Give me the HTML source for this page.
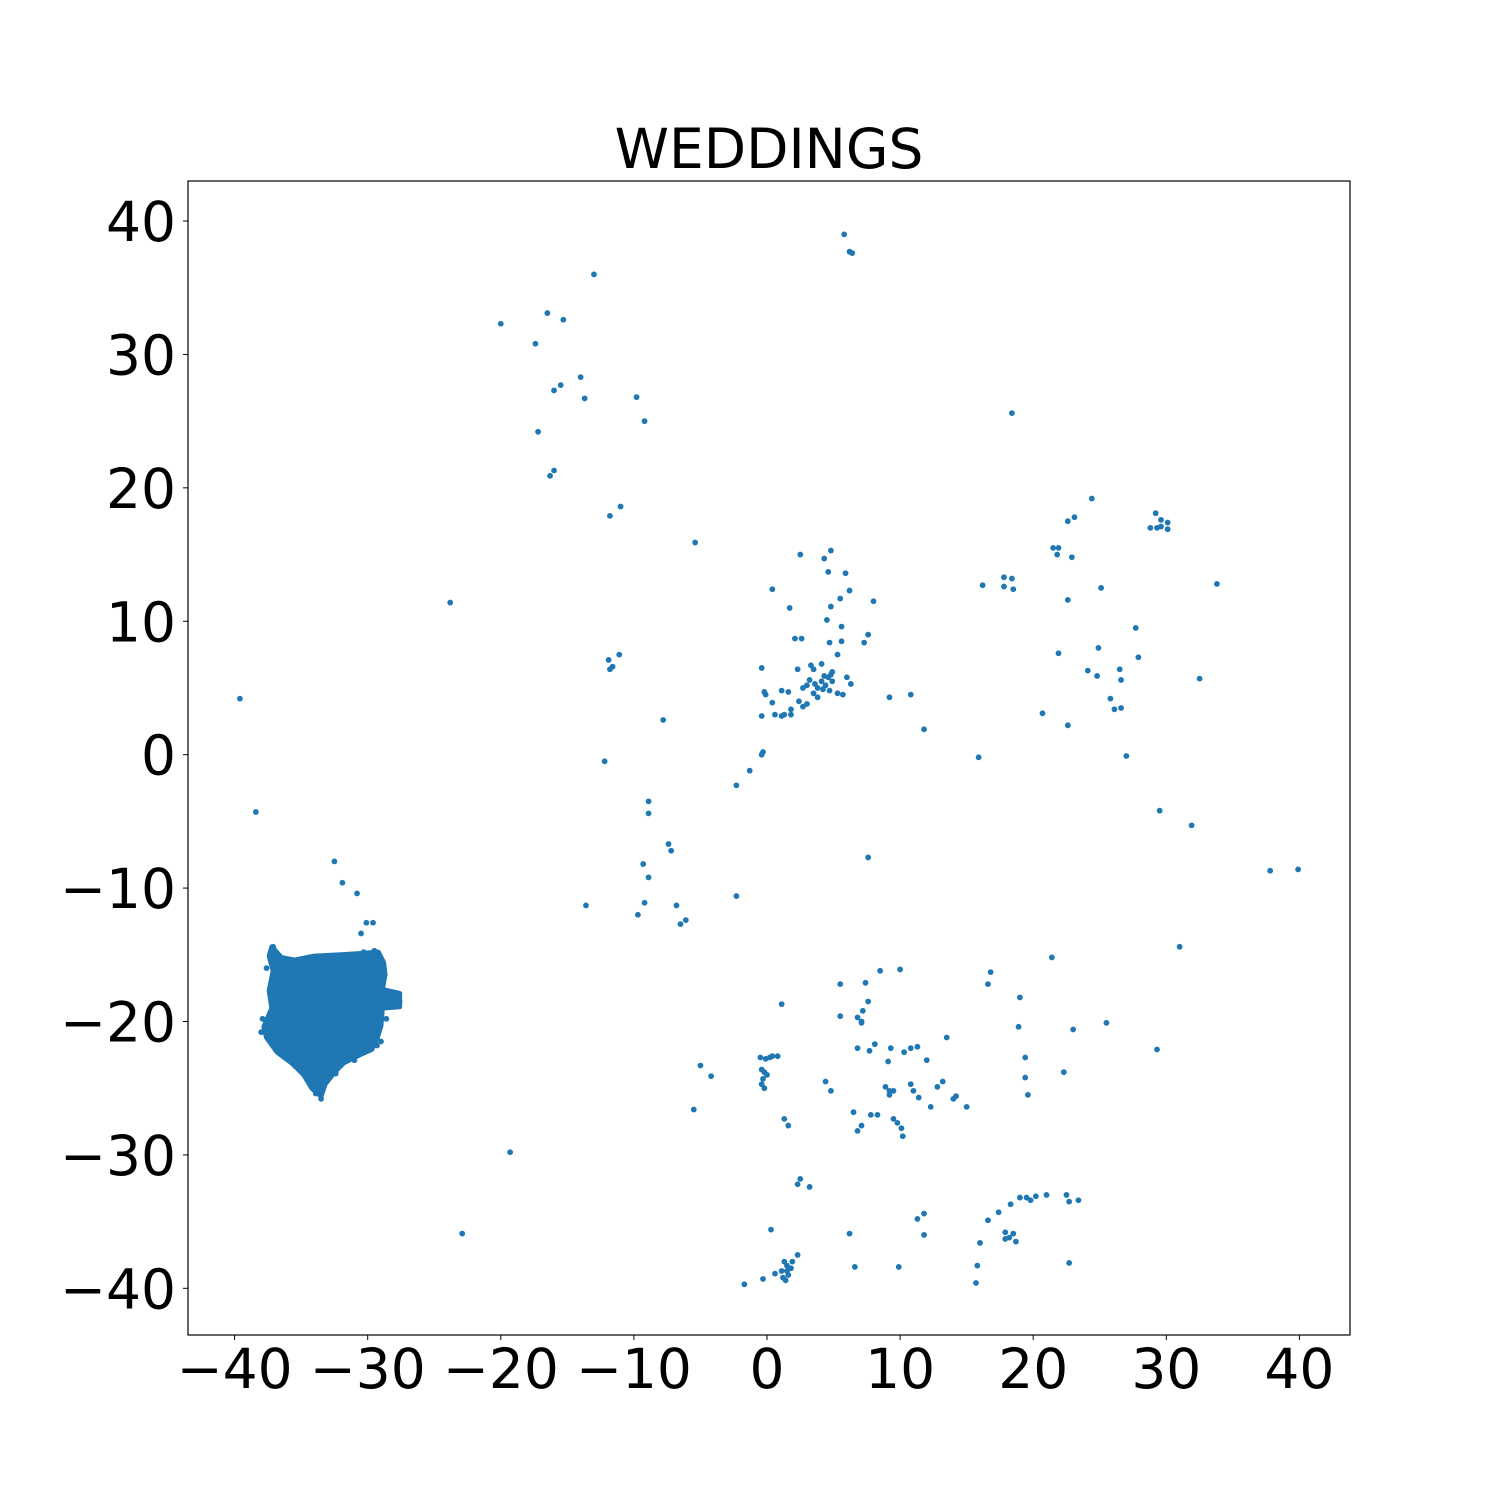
<!DOCTYPE html>
<html><head><meta charset="utf-8"><style>
html,body{margin:0;padding:0;background:#fff;}
svg{display:block;font-family:"DejaVu Sans","Liberation Sans",sans-serif;}
</style></head><body>
<svg id="chart" width="1500" height="1500" viewBox="0 0 1500 1500" xmlns="http://www.w3.org/2000/svg">
<rect width="1500" height="1500" fill="#fff"/>
<text x="769" y="168" font-size="55" text-anchor="middle">WEDDINGS</text>
<g id="marks"></g>
<g id="axes"></g>
<rect x="188" y="181" width="1162" height="1154" fill="none" stroke="#000" stroke-width="1.2"/>
</svg>
<script>
const xTicks=[-40,-30,-20,-10,0,10,20,30,40];
const yTicks=[-40,-30,-20,-10,0,10,20,30,40];
const clusterX=[-37.2,-36.5,-35.5,-34,-32,-30.5,-29.2,-28.8,-28.7,-28.9,-27.6,-27.6,-28.9,-29,-29.3,-29.7,-30.6,-31.8,-32.5,-33.2,-33.5,-34.2,-34.8,-35.6,-36.8,-37.6,-37.8,-37.2,-37.4,-37.1,-37.4];
const clusterY=[-14.4,-15.2,-15.4,-15.1,-15,-14.9,-14.8,-15.6,-16.5,-17.6,-17.9,-18.9,-19,-20.3,-21.3,-22.1,-22.5,-23.1,-23.8,-24.7,-25.6,-25,-24,-23.2,-22.3,-21.2,-20.4,-19,-17.7,-16.2,-15.1];
const pts=[[5.8,39],[6.2,37.7],[6.4,37.6],[-13,36],[-20,32.3],[-16.5,33.1],[-15.3,32.6],[-17.4,30.8],[-14,28.3],[-15.5,27.7],[-16,27.3],[-13.7,26.7],[-9.8,26.8],[-9.2,25],[-17.2,24.2],[-16,21.3],[-16.3,20.9],[-11,18.6],[-11.8,17.9],[-5.4,15.9],[18.4,25.6],[24.4,19.2],[29.2,18.1],[29.6,17.6],[30.1,17.4],[28.8,17],[29.3,17],[30.1,16.9],[29.6,17.1],[22.6,17.5],[23.1,17.8],[21.5,15.5],[21.9,15.5],[21.8,15],[22.9,14.8],[33.8,12.8],[16.2,12.7],[17.8,13.3],[18.4,13.2],[17.8,12.6],[18.5,12.4],[25.1,12.5],[22.6,11.6],[27.7,9.5],[24.9,8],[21.9,7.6],[27.9,7.3],[24.1,6.3],[24.8,5.9],[26.5,6.4],[26.6,5.6],[32.5,5.7],[25.8,4.2],[26.1,3.4],[26.6,3.5],[20.7,3.1],[22.6,2.2],[27,-0.1],[15.9,-0.2],[29.5,-4.2],[31.9,-5.3],[37.8,-8.7],[39.9,-8.6],[31,-14.4],[7.6,-7.7],
[2.5,15],[4.3,14.7],[4.8,15.3],[5.9,13.6],[4.6,13.7],[0.4,12.4],[6.2,12.3],[1.7,11],[5.5,11.7],[8,11.5],[4.8,11.1],[4.5,10.1],[7.6,9],[5.6,9.6],[2.1,8.7],[2.6,8.7],[5.6,8.5],[4.7,8.4],[7.3,8.4],[5.3,7.5],[-0.4,6.5],[3.3,6.7],[4.1,6.8],[3.5,6.4],[2.3,6.4],[6,5.8],[6.3,5.3],[-0.2,4.7],[-0.1,4.5],[1.1,4.8],[1.6,4.7],[2.7,5],[3,5.2],[3.2,5.6],[3.8,5],[4.1,5.5],[4.4,5.2],[4.6,5.8],[4.8,6],[4.9,5.5],[4.7,4.8],[5.3,4.6],[5.7,4.5],[3.5,4.6],[3.8,4.3],[2.4,4],[2.7,3.6],[3,3.8],[1.8,3.4],[1.3,3],[1.8,3],[1.1,2.9],[0.6,3],[-0.4,2.9],[0.4,3.9],[4.3,5.9],[4.9,6.2],[3.6,5.3],[4.2,4.9],[9.2,4.3],[10.8,4.5],[11.8,1.9],[-0.3,0.2],[-0.4,0],[-1.3,-1.2],[-2.3,-2.3],[-7.8,2.6],[-11.9,7.1],[-11.6,6.6],[-11.8,6.4],[-11.1,7.5],[-23.8,11.4],[-39.6,4.2],[-38.4,-4.3],[-12.2,-0.5],[-8.9,-3.5],[-8.9,-4.4],[-7.4,-6.7],[-7.2,-7.2],[-9.3,-8.2],[-8.9,-9.2],[-2.3,-10.6],[-13.6,-11.3],[-9.2,-11.1],[-9.7,-12],[-6.8,-11.3],[-6.5,-12.7],[-6.1,-12.4],[-32.5,-8],[-31.9,-9.6],[-30.8,-10.4],[-30.1,-12.6],[-29.6,-12.6],[-30.5,-13.4],
[8.5,-16.2],[10,-16.1],[5.5,-17.2],[7.4,-17.1],[16.8,-16.3],[16.6,-17.2],[21.4,-15.2],[1.1,-18.7],[7.6,-18.5],[7.2,-19.2],[6.8,-19.7],[5.5,-19.6],[7.1,-20],[7.1,-20.1],[19,-18.2],[18.9,-20.4],[23,-20.6],[25.5,-20.1],[29.3,-22.1],[13.5,-21.2],[8.1,-21.7],[6.8,-22],[7.7,-22.2],[9.3,-22],[10.3,-22.3],[10.8,-22],[11.3,-21.9],[9.1,-23],[12,-22.9],[19.4,-22.7],[22.3,-23.8],[19.4,-24.2],[19.6,-25.5],[-0.5,-22.7],[-0.1,-22.8],[0.2,-22.7],[0.4,-22.6],[0.8,-22.6],[-0.4,-23.6],[-0.2,-23.8],[0,-24],[-0.3,-24.3],[-0.4,-24.7],[-0.2,-25],[-5,-23.3],[-4.2,-24.1],[4.4,-24.5],[4.8,-25.2],[8.9,-24.9],[9.2,-25.2],[9.5,-25.2],[9.2,-25.5],[10.8,-24.7],[11,-25.2],[11.4,-25.7],[12.8,-24.9],[13.2,-24.5],[14.2,-25.6],[14,-25.8],[15,-26.4],[12.3,-26.4],[-5.5,-26.6],[6.5,-26.8],[7.8,-27],[8.3,-27],[9.5,-27.3],[9.8,-27.6],[10.1,-28],[10.2,-28.6],[7.1,-27.8],[6.8,-28.2],[1.3,-27.3],[1.6,-27.8],[-19.3,-29.8],[2.5,-31.8],[2.3,-32.2],[3.2,-32.4],[22.5,-33],[23.4,-33.4],[21,-33],[20.2,-33.1],[19.8,-33.4],[22.7,-33.5],[19.5,-33.2],[19,-33.2],[18.3,-33.7],[17.4,-34.3],[16.6,-34.9],[11.8,-34.4],[11.3,-34.8],[0.3,-35.6],[6.2,-35.9],[11.8,-36],[17.9,-35.8],[18.2,-36.2],[18.5,-35.9],[18.7,-36.5],[17.9,-36.3],[16,-36.6],[-22.9,-35.9],[2.3,-37.5],[1.3,-38],[1.5,-38.3],[1.5,-38.7],[1.2,-39.2],[1.4,-39.4],[1.8,-38.5],[1.6,-39],[0.6,-38.9],[-0.3,-39.3],[-1.7,-39.7],[6.6,-38.4],[9.9,-38.4],[15.8,-38.3],[15.7,-39.6],[22.7,-38.1],[1.9,-38],[1.1,-38.7],
[-28,-18.3],[-27.6,-18.5],[-33.5,-25.8],[-37.6,-20.6],[-37.1,-14.4],[-29.5,-14.7],[-29,-21.5],[-29.8,-22],[-38,-20.8],[-37.9,-19.8],[-37.6,-16],[-36.8,-15.3],[-33.8,-24.8],[-33.9,-25.4],[-31,-22.9],[-29.3,-21.8],[-28.6,-19.8],[-28.8,-16.3],[-30.3,-14.8],[-35.5,-23.3],[-36.6,-22.4],[-32.4,-23.9]];
const X0=188,X1=1350,Y0=181,Y1=1335,XMIN=-43.5,XMAX=43.8,YMIN=-43.5,YMAX=43.0;
function sx(v){return X0+(v-XMIN)/(XMAX-XMIN)*(X1-X0);}
function sy(v){return Y1-(v-YMIN)/(YMAX-YMIN)*(Y1-Y0);}
const NS="http://www.w3.org/2000/svg";
const marks=document.getElementById('marks'),axes=document.getElementById('axes');
const color="#1f77b4";
const poly=document.createElementNS(NS,'polygon');
poly.setAttribute('points',clusterX.map((x,i)=>sx(x)+','+sy(clusterY[i])).join(' '));
poly.setAttribute('fill',color);poly.setAttribute('stroke',color);poly.setAttribute('stroke-width','5');poly.setAttribute('stroke-linejoin','round');


marks.appendChild(poly);
pts.forEach(p=>{
 const c=document.createElementNS(NS,'circle');
 c.setAttribute('cx',sx(p[0]));c.setAttribute('cy',sy(p[1]));c.setAttribute('r','2.9');c.setAttribute('fill',color);
 
 
 marks.appendChild(c);
});
function lab(v){return v<0?'\u2212'+Math.abs(v):String(v);}
xTicks.forEach(v=>{
 const l=document.createElementNS(NS,'line');
 l.setAttribute('x1',sx(v));l.setAttribute('x2',sx(v));l.setAttribute('y1',Y1);l.setAttribute('y2',Y1+5);l.setAttribute('stroke','#000');
 
 
 axes.appendChild(l);
 const t=document.createElementNS(NS,'text');
 t.setAttribute('x',sx(v));t.setAttribute('y',1388);t.setAttribute('font-size','55');t.setAttribute('text-anchor','middle');
 t.textContent=lab(v);
 
 
 axes.appendChild(t);
});
yTicks.forEach(v=>{
 const l=document.createElementNS(NS,'line');
 l.setAttribute('x1',X0-5);l.setAttribute('x2',X0);l.setAttribute('y1',sy(v));l.setAttribute('y2',sy(v));l.setAttribute('stroke','#000');
 
 
 axes.appendChild(l);
 const t=document.createElementNS(NS,'text');
 t.setAttribute('x',176);t.setAttribute('y',sy(v)+20);t.setAttribute('font-size','55');t.setAttribute('text-anchor','end');
 t.textContent=lab(v);
 
 
 axes.appendChild(t);
});
</script>
</body></html>
